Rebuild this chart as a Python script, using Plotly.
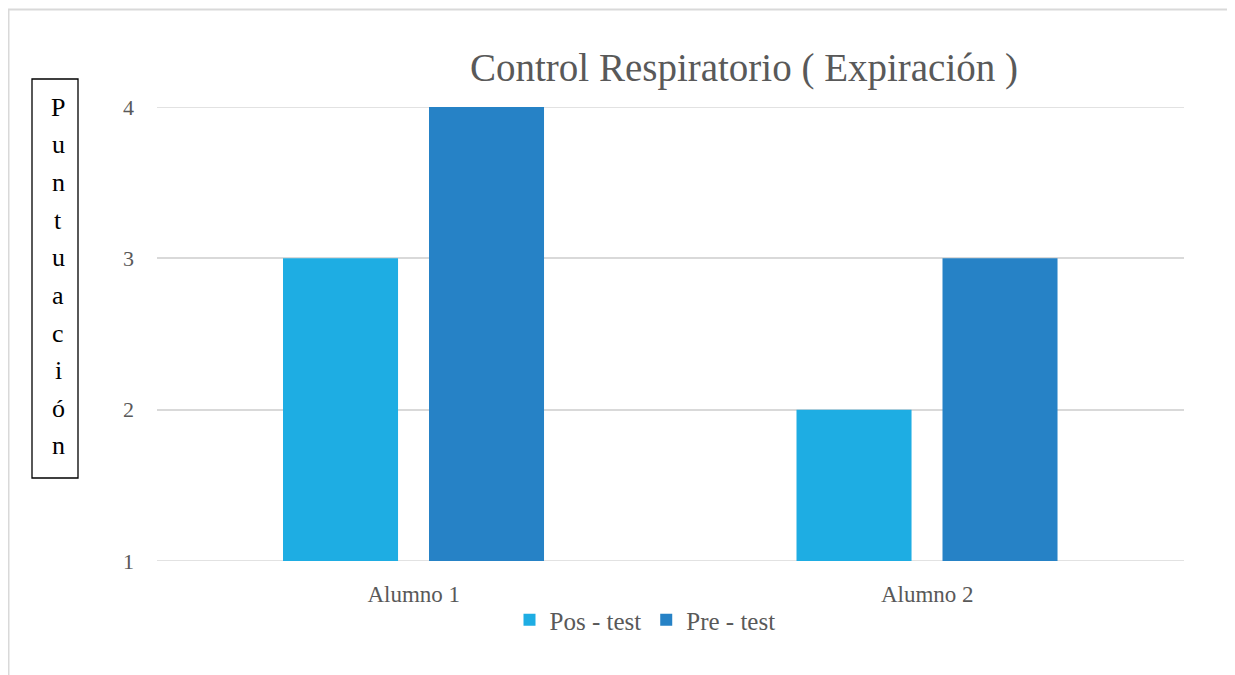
import plotly.graph_objects as go

categories = ["Alumno 1", "Alumno 2"]
pos_test = [3, 2]
pre_test = [4, 3]
series_names = ["Pos - test", "Pre - test"]
y_ticks = [1, 2, 3, 4]
title_text = "Control Respiratorio ( Expiración )"
y_label = "Puntuación"

# page body has an 8px margin: figure pixel = screen pixel - 8
OFF = 8
W, H = 1235 - OFF, 675 - OFF
L, R, T, B = 157 - OFF, 1184 - OFF, 107 - OFF, 561 - OFF
pw, ph = R - L, B - T

def px_x(x):
    return (x - OFF - L) / pw

def px_y(y):
    return (B - (y - OFF)) / ph

FONT = "Liberation Serif"
GRAY = "#595959"
GRID = "#D9D9D9"

fig = go.Figure()
fig.add_trace(go.Bar(x=categories, y=pos_test, name=series_names[0],
                     marker=dict(color="#1EADE3", line=dict(width=0)),
                     width=0.224, offset=-0.2546))
fig.add_trace(go.Bar(x=categories, y=pre_test, name=series_names[1],
                     marker=dict(color="#2682C6", line=dict(width=0)),
                     width=0.224, offset=0.0297))

fig.update_layout(
    width=W, height=H,
    margin=dict(l=L, r=W - R, t=T, b=H - B, autoexpand=False),
    plot_bgcolor="white", paper_bgcolor="white",
    font=dict(family=FONT, color=GRAY, size=20),
    showlegend=True,
    legend=dict(orientation="h", x=px_x(645), y=px_y(620), xanchor="center", yanchor="middle",
                font=dict(size=25, color=GRAY), itemwidth=30, traceorder="normal",
                itemclick=False),
    barmode="group",
    title=dict(text=title_text, x=(744 - OFF) / W, xanchor="center", y=1 - (67 - OFF) / H,
               yanchor="middle", font=dict(size=39, color=GRAY, family=FONT)),
)
fig.update_xaxes(showgrid=False, showline=False, zeroline=False, ticks="",
                 tickfont=dict(size=23, color=GRAY), ticklabelstandoff=17, fixedrange=True)
fig.update_yaxes(range=[y_ticks[0], y_ticks[-1]], tickvals=y_ticks, showgrid=True, gridcolor=GRID,
                 gridwidth=1.5, zeroline=False, showline=False, ticks="",
                 tickfont=dict(size=22, color=GRAY), ticklabelstandoff=22, fixedrange=True)

# gridlines at the range edges (plotly omits them)
for v in (y_ticks[0], y_ticks[-1]):
    fig.add_shape(type="line", xref="paper", yref="y", x0=0, x1=1, y0=v, y1=v,
                  line=dict(color=GRID, width=1.5), layer="below")

# chart frame (top and left edges visible)
fig.add_shape(type="line", xref="paper", yref="paper", x0=px_x(8), x1=px_x(1240),
              y0=px_y(9.5), y1=px_y(9.5), line=dict(color=GRID, width=2))
fig.add_shape(type="line", xref="paper", yref="paper", x0=px_x(8.5), x1=px_x(8.5),
              y0=px_y(9.5), y1=px_y(680), line=dict(color=GRID, width=2))

# boxed vertical y-axis label
fig.add_shape(type="rect", xref="paper", yref="paper", x0=px_x(32), x1=px_x(78),
              y0=px_y(79), y1=px_y(478), line=dict(color="black", width=1.3))
n = len(y_label)
top_c, bot_c = 107, 446
for i, ch in enumerate(y_label):
    yc = top_c + (bot_c - top_c) * i / (n - 1)
    fig.add_annotation(text=ch, xref="paper", yref="paper", x=px_x(58), y=px_y(yc),
                       xanchor="center", yanchor="middle", showarrow=False,
                       font=dict(size=26, color="black", family=FONT))

fig.write_html("out.html")
